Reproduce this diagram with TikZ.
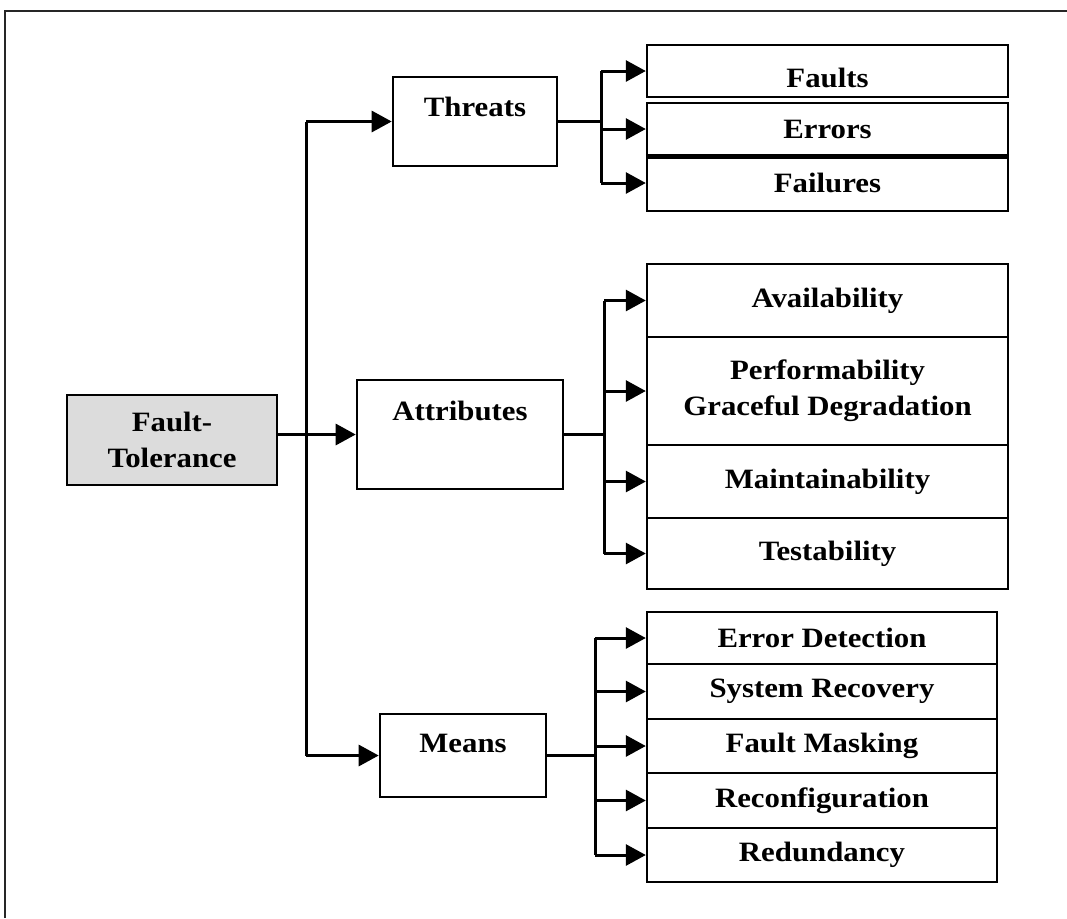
\documentclass[tikz,border=0pt]{standalone}
\usepackage{fontspec}
\setmainfont{Liberation Serif}[FakeStretch=1.1]
\usetikzlibrary{arrows.meta}
\definecolor{rootfill}{HTML}{DCDCDC}

\begin{document}
\begin{tikzpicture}[x=0.5pt,y=-0.5pt,
  font=\bfseries\fontsize{14}{18}\selectfont,
  box/.style={draw, line width=1.2pt, rectangle, inner sep=0pt, align=center},
  catbox/.style={box, line width=1.3pt},
  leaf/.style={box, minimum width=180.5pt},
  mleaf/.style={box, minimum width=175pt},
  conn/.style={line width=1.5pt},
  arr/.style={conn, -{Triangle[length=10pt,width=10.5pt]}},
]
\useasboundingbox (0,0) rectangle (1067,918);

% page frame (only top and left edges fall inside)
\draw[line width=0.7pt, black!85] (5,918) -- (5,11) -- (1067,11);

% root
\node[catbox, fill=rootfill, minimum width=105pt, minimum height=45pt]
  (ft) at (172,440) {Fault-\\Tolerance};

% categories
\node[catbox, minimum width=82pt, minimum height=44.5pt,
  label={[anchor=center,yshift=-15.5pt]north:Threats}] (threats) at (475,121.5) {};
\node[catbox, minimum width=103pt, minimum height=54.5pt,
  label={[anchor=center,yshift=-16pt]north:Attributes}] (attr) at (460,434.5) {};
\node[catbox, minimum width=83pt, minimum height=41.5pt,
  label={[anchor=center,yshift=-15.5pt]north:Means}] (means) at (463,755.5) {};

% threats
\node[leaf, minimum height=26pt, text height=16.5pt, text depth=0pt] (faults) at (827.5,71) {Faults};
\node[leaf, minimum height=26pt] (errors)   at (827.5,129) {Errors};
\node[leaf, minimum height=28pt] (failures) at (827.5,183) {Failures};
\draw[line width=2.4pt] (errors.south west) -- (errors.south east);

% attributes
\node[leaf, minimum height=36.5pt] (avail) at (827.5,300.5) {Availability};
\node[leaf, minimum height=54pt]   (perf)  at (827.5,391)   {Performability\\Graceful Degradation};
\node[leaf, minimum height=36.5pt] (maint) at (827.5,481.5) {Maintainability};
\node[leaf, minimum height=35.5pt] (test)  at (827.5,553.5) {Testability};

% means
\node[mleaf, minimum height=26pt]   (errdet) at (822,638)   {Error Detection};
\node[mleaf, minimum height=27.5pt] (sysrec) at (822,691.5) {System Recovery};
\node[mleaf, minimum height=27pt]   (fmask)  at (822,746)   {Fault Masking};
\node[mleaf, minimum height=27.5pt] (reconf) at (822,800.5) {Reconfiguration};
\node[mleaf, minimum height=27pt]   (redund) at (822,855)   {Redundancy};

% trunk from the root to the three categories
\coordinate (trunk) at (306,0);
\draw[conn] (threats.west -| trunk) -- (means.west -| trunk);
\draw[arr] (ft.east |- attr.west) -- (attr.west);
\draw[arr] (threats.west -| trunk) -- (threats.west);
\draw[arr] (means.west -| trunk) -- (means.west);

% threats bus
\coordinate (tbus) at (601,0);
\draw[conn] (threats.east) -- (threats.east -| tbus);
\draw[conn] (faults.west -| tbus) -- (failures.west -| tbus);
\foreach \n in {faults,errors,failures}
  \draw[arr] (\n.west -| tbus) -- (\n.west);

% attributes bus
\coordinate (abus) at (604,0);
\draw[conn] (attr.east) -- (attr.east -| abus);
\draw[conn] (avail.west -| abus) -- (test.west -| abus);
\foreach \n in {avail,perf,maint,test}
  \draw[arr] (\n.west -| abus) -- (\n.west);

% means bus
\coordinate (mbus) at (595,0);
\draw[conn] (means.east) -- (means.east -| mbus);
\draw[conn] (errdet.west -| mbus) -- (redund.west -| mbus);
\foreach \n in {errdet,sysrec,fmask,reconf,redund}
  \draw[arr] (\n.west -| mbus) -- (\n.west);
\end{tikzpicture}
\end{document}
